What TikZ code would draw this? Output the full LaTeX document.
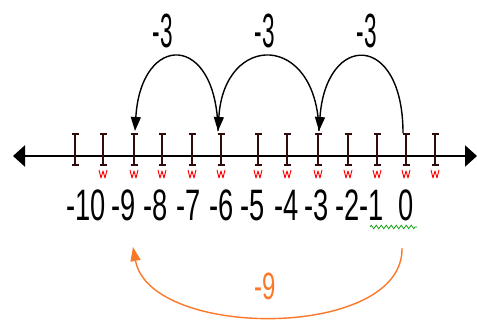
\documentclass[tikz,border=0pt]{standalone}
\usepackage{fontspec}
\setmainfont{Liberation Sans}
\usetikzlibrary{arrows.meta,decorations.pathmorphing}
\definecolor{orng}{RGB}{250,120,40}
\definecolor{tickc}{RGB}{50,12,12}
\begin{document}
\begin{tikzpicture}[x=1pt,y=-1pt,
  numlbl/.style={anchor=base,inner sep=0pt,xscale=0.62,font=\fontsize{44}{44}\selectfont},
  toplbl/.style={anchor=base,inner sep=0pt,xscale=0.47,font=\fontsize{48}{48}\selectfont},
  jump/.style={line width=1.4pt,-{Triangle[length=14pt,width=10pt]}},
  axis/.style={line width=2.4pt,{Triangle[length=12pt,width=21pt]}-{Triangle[length=12pt,width=21pt]}},
  tickmk/.style={tickc,line width=1.3pt},
  squig/.style={red,line width=0.9pt,line join=round},
]
\useasboundingbox (0,0) rectangle (477,320);
% axis
\coordinate (L) at (13,156);
\coordinate (R) at (477,156);
\draw[axis] (L) -- (R);
% ticks
\foreach \x [count=\i] in {75,103,134,162,192,221,258,287,318,348,377,406,435}{
  \draw[tickmk] (\x,134) -- (\x,165);
  \draw[tickmk] (\x-3.5,134) -- (\x+3.5,134);
  \draw[tickmk] (\x-3.5,165) -- (\x+3.5,165);
  \coordinate (t\i) at (\x,132);
  \ifnum\i>1
    \draw[squig] (\x-4,170) -- (\x-2,178) -- (\x,171) -- (\x+2,178) -- (\x+4,170);
  \fi
}
% labels
\node[numlbl] (n10) at (86,221) {-10};
\node[numlbl] (n9) at (123.5,221) {-9};
\node[numlbl] (n8) at (156,221) {-8};
\node[numlbl] (n7) at (189,221) {-7};
\node[numlbl] (n6) at (222,221) {-6};
\node[numlbl] (n5) at (253,221) {-5};
\node[numlbl] (n4) at (287,221) {-4};
\node[numlbl] (n3) at (317,221) {-3};
\node[numlbl] (n2) at (348,221) {-2};
\node[numlbl] (n1) at (372,221) {-1};
\node[numlbl] (n0) at (406,221) {0};
\draw[green!60!black,line width=0.7pt,decorate,decoration={zigzag,segment length=5pt,amplitude=1.8pt}] (370,227) -- (417,227);
% jumps of -3
\coordinate (a0) at (403,133);
\coordinate (a1) at (319,131);
\coordinate (a2) at (218,131);
\coordinate (a3) at (135,131);
\draw[jump] (a0) .. controls (403,32) and (326,32) .. (a1);
\draw[jump] (a1) .. controls (317,32) and (224,32) .. (a2);
\draw[jump] (a2) .. controls (217,32) and (141,32) .. (a3);
\node[toplbl] (j1) at (163,48) {-3};
\node[toplbl] (j2) at (265,48) {-3};
\node[toplbl] (j3) at (367,48) {-3};
% total jump -9
\coordinate (b0) at (402,248);
\coordinate (b1) at (133,247);
\draw[orng,line width=1.4pt,-{Triangle[length=14pt,width=10pt]}] (b0) .. controls (404,340) and (150,340) .. (b1);
\node[anchor=base,inner sep=0pt,xscale=0.63,font=\fontsize{38}{38}\selectfont,text=orng] (tot) at (265,300) {-9};
\end{tikzpicture}
\end{document}
